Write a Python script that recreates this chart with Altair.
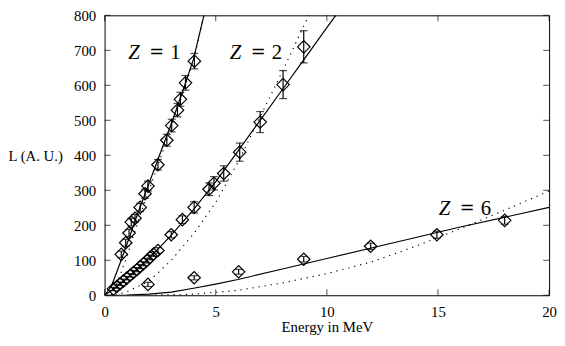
import altair as alt
import pandas as pd

# ---------------- data ----------------
z1_E = [0.75, 0.95, 1.1, 1.2, 1.37, 1.6, 1.82, 1.95, 2.4, 2.8, 3.02, 3.28, 3.41, 3.64, 4.04]
z1_L = [117, 150, 178, 209, 220, 251, 290, 312, 373, 443, 485, 529, 560, 607, 669]
z1_err = [9, 10, 10, 11, 11, 12, 13, 14, 15, 17, 18, 19, 20, 21, 22]

z2_E = [0.4, 0.55, 0.7, 0.85, 1.0, 1.15, 1.3, 1.45, 1.6, 1.75, 1.9, 2.05, 2.2, 2.4,
        3.0, 3.5, 4.03, 4.7, 4.92, 5.36, 6.08, 7.0, 8.03, 8.96]
z2_L = [18, 25, 33, 41, 49, 57, 65, 73, 82, 90, 99, 108, 118, 128,
        173, 216, 251, 303, 320, 348, 409, 495, 602, 710]
z2_err = [5, 5, 5, 5, 5, 5, 6, 6, 6, 6, 7, 7, 7, 8,
          9, 11, 16, 18, 19, 22, 26, 30, 40, 46]

z6_E = [1.95, 4.03, 6.03, 8.96, 11.97, 14.95, 18.0]
z6_L = [31, 50, 67, 103, 140, 173, 214]
z6_err = [6, 6, 7, 8, 9, 10, 11]

# solid fit curves
fit1_E = [0, 0.3, 0.6, 1.0, 1.5, 2.0, 2.5, 3.0, 3.5, 4.0, 4.47]
fit1_L = [0, 25, 75, 145, 235, 320, 405, 490, 580, 675, 800]
fit2_E = [0, 0.5, 1.0, 1.5, 2.0, 2.5, 3.0, 4.0, 5.0, 6.0, 7.0, 8.0, 9.0, 10.0, 10.4]
fit2_L = [0, 22, 48, 76, 106, 138, 172, 245, 325, 412, 500, 588, 676, 765, 800]
fit6_E = [0, 1, 2, 3, 4, 5, 6, 8, 10, 13, 16, 20]
fit6_L = [0, 0.5, 3, 9, 20, 32, 45, 75, 105, 150, 195, 251]

# dotted model curves
dot1_E = [0.3, 0.6, 1.0, 1.5, 2.0, 2.5, 3.0, 3.5, 4.0, 4.47]
dot1_L = [0, 40, 110, 210, 300, 390, 480, 575, 672, 800]
dot2_E = [0.5, 1, 2, 3, 4, 5, 6, 7, 8, 9, 9.2]
dot2_L = [0, 10, 40, 100, 175, 265, 380, 510, 640, 775, 800]
dot6_E = [2, 4, 6, 8, 10, 12, 14, 16, 18, 20]
dot6_L = [0, 3, 14, 35, 62, 95, 140, 190, 243, 298]

x_ticks = [0, 5, 10, 15, 20]
y_ticks = [0, 100, 200, 300, 400, 500, 600, 700, 800]

label_Z = ["1", "2", "6"]
label_E = [1.06, 5.63, 15.03]
label_L = [674, 674, 228]

# ---------------- tables ----------------
pts = pd.concat([
    pd.DataFrame({"E": z1_E, "L": z1_L, "err": z1_err, "Z": "1"}),
    pd.DataFrame({"E": z2_E, "L": z2_L, "err": z2_err, "Z": "2"}),
    pd.DataFrame({"E": z6_E, "L": z6_L, "err": z6_err, "Z": "6"}),
], ignore_index=True)
pts["lo"] = pts["L"] - pts["err"]
pts["hi"] = pts["L"] + pts["err"]

def curve(E, L, name):
    return pd.DataFrame({"E": E, "L": L, "s": name, "o": range(len(E))})

fits = pd.concat([curve(fit1_E, fit1_L, "1"), curve(fit2_E, fit2_L, "2"),
                  curve(fit6_E, fit6_L, "6")], ignore_index=True)
dots = pd.concat([curve(dot1_E, dot1_L, "1"), curve(dot2_E, dot2_L, "2"),
                  curve(dot6_E, dot6_L, "6")], ignore_index=True)

labels = pd.DataFrame({"E": label_E, "L": label_L, "num": label_Z})

FONT = "Liberation Serif"
YT = "L (A. U.)"
XT = "Energy in MeV"

xscale = alt.Scale(domain=[0, 20], nice=False, zero=False)
yscale = alt.Scale(domain=[0, 800], nice=False, zero=False)

xaxis = alt.Axis(values=x_ticks, format="d", ticks=False, tickSize=0, domain=False, grid=False,
                 labelFont=FONT, labelFontSize=15, labelColor="black", labelPadding=10,
                 labelFlush=False, labelOverlap=False,
                 titleFont=FONT, titleFontSize=15, titleFontWeight="normal", titleColor="black",
                 titleY=37, titleBaseline="alphabetic")
yaxis = alt.Axis(values=y_ticks, format="d", ticks=False, tickSize=0, domain=False, grid=False,
                 labelFont=FONT, labelFontSize=15, labelColor="black", labelPadding=9,
                 labelFlush=False, labelOverlap=False,
                 titleFont=FONT, titleFontSize=15, titleFontWeight="normal", titleColor="black",
                 titleAngle=0, titleX=-98, titleY=142, titleAlign="left", titleBaseline="middle")

def X(f="E"):
    return alt.X(f"{f}:Q", scale=xscale, axis=xaxis, title=XT)

def Y(f="L"):
    return alt.Y(f"{f}:Q", scale=yscale, axis=yaxis, title=YT)

SW = 1.2
solid = alt.Chart(fits).mark_line(color="black", strokeWidth=SW, clip=True).encode(
    x=X(), y=Y(), detail="s:N", order="o:Q")
dotted = alt.Chart(dots).mark_line(color="black", strokeWidth=1.2, strokeDash=[1.2, 5], clip=True).encode(
    x=X(), y=Y(), detail="s:N", order="o:Q")

bars = alt.Chart(pts).mark_rule(color="black", strokeWidth=SW).encode(
    x=X(), y=Y("lo"), y2="hi:Q")
cap_lo = alt.Chart(pts).mark_tick(color="black", orient="horizontal", size=8, thickness=SW).encode(
    x=X(), y=Y("lo"))
cap_hi = alt.Chart(pts).mark_tick(color="black", orient="horizontal", size=8, thickness=SW).encode(
    x=X(), y=Y("hi"))
marks = alt.Chart(pts).mark_point(shape="diamond", size=160, filled=False, color="black",
                                  strokeWidth=SW, opacity=1).encode(x=X(), y=Y())

# inward frame ticks on all four sides
left_t = pd.DataFrame({"E": [0] * len(y_ticks), "L": y_ticks})
right_t = pd.DataFrame({"E": [20] * len(y_ticks), "L": y_ticks})
bot_t = pd.DataFrame({"E": x_ticks, "L": [0] * len(x_ticks)})
top_t = pd.DataFrame({"E": x_ticks, "L": [800] * len(x_ticks)})
tk_l = alt.Chart(left_t).mark_tick(color="black", orient="horizontal", size=6, thickness=1, xOffset=3).encode(x=X(), y=Y())
tk_r = alt.Chart(right_t).mark_tick(color="black", orient="horizontal", size=6, thickness=1, xOffset=-3).encode(x=X(), y=Y())
tk_b = alt.Chart(bot_t).mark_tick(color="black", orient="vertical", size=6, thickness=1, yOffset=-3).encode(x=X(), y=Y())
tk_t = alt.Chart(top_t).mark_tick(color="black", orient="vertical", size=6, thickness=1, yOffset=3).encode(x=X(), y=Y())

# "Z = n" annotations
lab_z = alt.Chart(labels).mark_text(font=FONT, fontSize=21, fontStyle="italic", align="left",
                                    baseline="alphabetic", color="black").encode(
    x=X(), y=Y(), text=alt.value("Z"))
lab_eq = alt.Chart(labels).mark_text(font="DejaVu Serif", fontSize=18, align="center", dx=29,
                                     baseline="alphabetic", dy=-1, color="black").encode(
    x=X(), y=Y(), text=alt.value("="))
lab_n = alt.Chart(labels).mark_text(font=FONT, fontSize=21, align="center", dx=48,
                                    baseline="alphabetic", color="black").encode(
    x=X(), y=Y(), text="num:N")

chart = alt.layer(
    dotted, solid, bars, cap_lo, cap_hi, marks, tk_l, tk_r, tk_b, tk_t, lab_z, lab_eq, lab_n
).properties(
    width=451, height=284,
    autosize=alt.AutoSizeParams(type="none"),
    padding={"left": 98, "top": 5, "right": 8, "bottom": 45},
    background="white",
).configure_view(stroke="black", strokeWidth=1)

chart.save("out.html", embed_options={"renderer": "svg", "actions": False})
